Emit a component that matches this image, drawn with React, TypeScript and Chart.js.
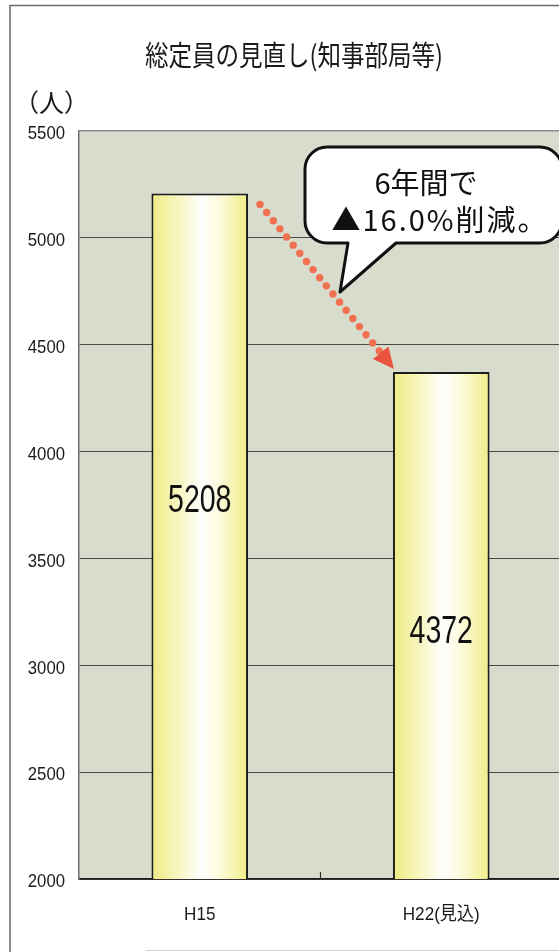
import { useEffect, useRef } from "react";
import { Chart, registerables } from "chart.js";

Chart.register(...registerables);

// Staff totals (governor's departments etc.)
const categories = ["H15", "H22(見込)"];
const staffCounts = [5208, 4372];
const yTicks = [2000, 2500, 3000, 3500, 4000, 4500, 5000, 5500];
const titleText = "総定員の見直し(知事部局等)";
const unitText = "（人）";
const calloutLines = ["6年間で", "▲16.0%削減。"];

const SANS = '"Liberation Sans", Arial, "Noto Sans CJK JP", sans-serif';
const GOTHIC = '"Noto Sans CJK JP", "Noto Sans CJK SC", sans-serif';

const CANVAS_W = 575;
const CANVAS_H = 952;

// Where each value label sits inside its bar (share of bar height from the axis)
const labelLift = [0.55, 0.487];

// Draws text squeezed horizontally, to get a narrow typeface look
function drawNarrow(
  ctx: CanvasRenderingContext2D,
  text: string,
  x: number,
  y: number,
  font: string,
  squeeze: number,
  align: CanvasTextAlign
) {
  ctx.save();
  ctx.font = font;
  ctx.textAlign = align;
  ctx.textBaseline = "middle";
  ctx.translate(x, y);
  ctx.scale(squeeze, 1);
  ctx.fillText(text, 0, 0);
  ctx.restore();
}

function barGradient(chart: Chart, index: number) {
  const x: any = chart.scales && chart.scales.x;
  const fallback = "#f6f3b0";
  if (!x) return fallback;
  const center = x.getPixelForValue(index);
  const catWidth = (x.right - x.left) / categories.length;
  const half = (catWidth * 0.4) / 2;
  if (!isFinite(center) || !isFinite(half) || half <= 0) return fallback;
  const g = chart.ctx.createLinearGradient(center - half, 0, center + half, 0);
  g.addColorStop(0, "#efeb82");
  g.addColorStop(0.3, "#f8f7c6");
  g.addColorStop(0.52, "#ffffff");
  g.addColorStop(0.7, "#fcfbdc");
  g.addColorStop(1, "#f0ec86");
  return g;
}

const decorPlugin = {
  id: "decor",
  beforeDraw(chart: Chart) {
    const { ctx, chartArea: a } = chart;
    ctx.save();
    ctx.fillStyle = "#ffffff";
    ctx.fillRect(0, 0, chart.width, chart.height);
    // outer frame
    ctx.strokeStyle = "#6a6a6a";
    ctx.lineWidth = 1.5;
    ctx.beginPath();
    ctx.moveTo(10, CANVAS_H);
    ctx.lineTo(10, 5.5);
    ctx.lineTo(chart.width, 5.5);
    ctx.stroke();
    ctx.strokeStyle = "#d2d2d2";
    ctx.lineWidth = 1;
    ctx.beginPath();
    ctx.moveTo(146, 950.5);
    ctx.lineTo(chart.width, 950.5);
    ctx.stroke();
    // plot background
    ctx.fillStyle = "#d7dccd";
    ctx.fillRect(a.left, a.top, a.right - a.left, a.bottom - a.top);
    ctx.restore();
  },
  afterDraw(chart: Chart) {
    const { ctx, chartArea: a } = chart;
    const xs: any = chart.scales.x;
    const ys: any = chart.scales.y;
    const bars = chart.getDatasetMeta(0).data as any[];
    const axisY = ys.getPixelForValue(ys.min);
    ctx.save();

    // axis tick labels
    ctx.fillStyle = "#1a1a1a";
    ys.ticks.forEach((t: any) => {
      drawNarrow(ctx, String(t.value), a.left - 14, ys.getPixelForValue(t.value) + 3,
        `19px ${SANS}`, 0.88, "right");
    });
    categories.forEach((c, i) => {
      drawNarrow(ctx, c, xs.getPixelForValue(i), axisY + 36, `19px ${SANS}`, 0.9, "center");
    });

    // small tick between the two categories
    ctx.strokeStyle = "#333";
    ctx.lineWidth = 1.2;
    for (let i = 0; i < categories.length - 1; i++) {
      const mx = (xs.getPixelForValue(i) + xs.getPixelForValue(i + 1)) / 2;
      ctx.beginPath();
      ctx.moveTo(mx, a.bottom);
      ctx.lineTo(mx, a.bottom - 7);
      ctx.stroke();
    }

    // value labels
    ctx.fillStyle = "#111";
    bars.forEach((bar, i) => {
      const y = axisY - labelLift[i] * (axisY - bar.y);
      drawNarrow(ctx, String(staffCounts[i]), bar.x, y, `38px ${SANS}`, 0.75, "center");
    });

    // callout bubble
    const L = 305, T = 147, R = 562, B = 243, r = 22;
    ctx.beginPath();
    ctx.moveTo(L + r, T);
    ctx.lineTo(R - r, T);
    ctx.arcTo(R, T, R, T + r, r);
    ctx.lineTo(R, B - r);
    ctx.arcTo(R, B, R - r, B, r);
    ctx.lineTo(396, B);
    ctx.lineTo(340, 292);
    ctx.lineTo(348, B);
    ctx.lineTo(L + r, B);
    ctx.arcTo(L, B, L, B - r, r);
    ctx.lineTo(L, T + r);
    ctx.arcTo(L, T, L + r, T, r);
    ctx.closePath();
    ctx.fillStyle = "#ffffff";
    ctx.fill();
    ctx.strokeStyle = "#111";
    ctx.lineWidth = 3;
    ctx.lineJoin = "round";
    ctx.stroke();

    ctx.fillStyle = "#111";
    ctx.textAlign = "center";
    ctx.textBaseline = "middle";
    ctx.font = `29px ${GOTHIC}`;
    ctx.fillText(calloutLines[0], 426, 183);
    (ctx as any).letterSpacing = "2px";
    ctx.fillText(calloutLines[1], 440, 220);
    (ctx as any).letterSpacing = "0px";

    // dotted arrow from the first bar top to the second
    const b0 = bars[0], b1 = bars[1];
    const sx = b0.x + b0.width / 2 + 12, sy = b0.y + 11;
    const ex = b1.x - b1.width / 2 + 1, ey = b1.y - 3;
    const len = Math.hypot(ex - sx, ey - sy);
    const dx = (ex - sx) / len, dy = (ey - sy) / len;
    const headLen = 21, headHalf = 10;
    ctx.fillStyle = "#f07050";
    for (let t = 0; t <= len - headLen - 2; t += 10.5) {
      ctx.beginPath();
      ctx.arc(sx + dx * t, sy + dy * t, 3.7, 0, Math.PI * 2);
      ctx.fill();
    }
    const hx = ex - dx * headLen, hy = ey - dy * headLen;
    ctx.fillStyle = "#ea5340";
    ctx.beginPath();
    ctx.moveTo(ex, ey);
    ctx.lineTo(hx - dy * headHalf, hy + dx * headHalf);
    ctx.lineTo(hx + dy * headHalf, hy - dx * headHalf);
    ctx.closePath();
    ctx.fill();

    // title and unit
    ctx.fillStyle = "#1a1a1a";
    drawNarrow(ctx, titleText, 294, 55, `28px ${GOTHIC}`, 0.84, "center");
    ctx.font = `25px ${GOTHIC}`;
    ctx.textAlign = "left";
    ctx.textBaseline = "middle";
    ctx.fillText(unitText, 14, 102);

    ctx.restore();
  },
};

export default function App() {
  const canvasRef = useRef<HTMLCanvasElement | null>(null);

  useEffect(() => {
    const canvas = canvasRef.current;
    if (!canvas) return;
    const chart = new Chart(canvas, {
      type: "bar",
      data: {
        labels: categories,
        datasets: [
          {
            data: staffCounts,
            backgroundColor: (c: any) => barGradient(c.chart, c.dataIndex),
            borderColor: "#1c1c1c",
            borderWidth: 2,
            borderSkipped: "start",
            categoryPercentage: 1,
            barPercentage: 0.4,
          },
        ],
      },
      options: {
        animation: false,
        responsive: false,
        events: [],
        layout: { padding: { top: 131, right: CANVAS_W - 562, left: 0, bottom: 0 } },
        plugins: {
          legend: { display: false },
          tooltip: { enabled: false },
          title: { display: false },
        },
        scales: {
          x: {
            grid: { display: false },
            border: { color: "#1a1a1a", width: 1.5 },
            ticks: { display: false },
            afterFit: (s: any) => {
              s.height = 73;
            },
          },
          y: {
            min: 2000,
            max: 5500,
            afterBuildTicks: (s: any) => {
              s.ticks = yTicks.map((v) => ({ value: v }));
            },
            grid: {
              drawTicks: false,
              color: (c: any) => (c.tick && c.tick.value === 5500 ? "#8c8c8c" : "#4a4a4a"),
              lineWidth: (c: any) => (c.tick && c.tick.value === 5500 ? 1.5 : 1),
            },
            border: { color: "#6e6e6e", width: 1.5 },
            ticks: { display: false },
            afterFit: (s: any) => {
              s.width = 79;
            },
          },
        },
      },
      plugins: [decorPlugin],
    });
    chart.update();
    return () => chart.destroy();
  }, []);

  return (
    <div
      style={{
        position: "fixed",
        left: 0,
        top: 0,
        width: 559,
        height: 952,
        overflow: "hidden",
        background: "#fff",
      }}
    >
      <canvas
        ref={canvasRef}
        width={CANVAS_W}
        height={CANVAS_H}
        style={{ display: "block", width: CANVAS_W, height: CANVAS_H }}
      />
    </div>
  );
}
